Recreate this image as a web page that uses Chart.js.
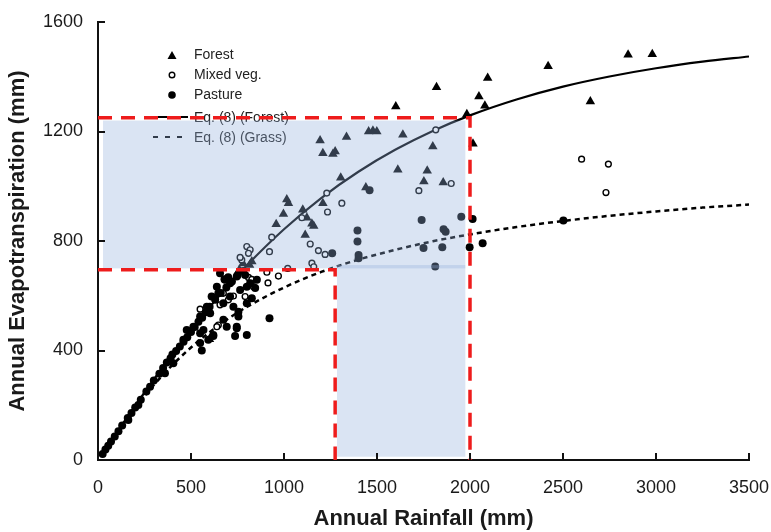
<!DOCTYPE html>
<html>
<head>
<meta charset="utf-8">
<script src="https://cdn.jsdelivr.net/npm/chart.js@4.4.1/dist/chart.umd.min.js"></script>
<style>
  html, body { margin: 0; background: #fff; }
</style>
</head>
<body>
<canvas id="etChart" width="771" height="532"></canvas>
<script>
// --- Data ---
const forest = [
  [2850,1480],[2980,1482],[2420,1438],[2095,1395],[1820,1362],[2048,1328],[2080,1294],
  [1983,1263],[1601,1291],[2647,1310],[2016,1155],[1639,1188],[1800,1145],[1612,1060],
  [1770,1057],[1752,1017],[1856,1014],[1194,1167],[1336,1180],[1455,1200],[1478,1203],
  [1499,1200],[1209,1121],[1263,1118],[1275,1127],[1305,1031],[1015,952],[1024,938],
  [997,899],[1101,914],[1209,938],[1123,885],[958,861],[1150,863],[1160,855],[1114,822],
  [1440,995],[827,725],[815,712],[780,718],[760,695],[599,441]
];
const mixedVeg = [
  [1816,1206],[2600,1099],[2744,1081],[2731,977],[1899,1010],[1725,984],[1230,975],
  [1311,938],[1234,906],[1096,885],[934,814],[922,761],[800,780],[818,768],[809,755],
  [773,731],[764,740],[1185,765],[1221,751],[1141,789],[1150,719],[1160,706],[1020,700],
  [970,672],[908,686],[914,647],[809,667],[827,660],[836,633],[791,597],[674,609],
  [728,599],[701,585],[656,567],[549,551],[647,493],[639,487]
];
const pasture = [
  [2502,875],[2014,880],[2068,792],[1998,777],[1953,889],[1740,877],[1858,843],[1869,834],
  [1750,774],[1851,777],[1813,707],[1395,838],[1395,798],[1401,749],[1401,737],[1259,755],
  [1460,985],[922,518],[800,457],[737,453],[558,400],[746,481],[620,453],[549,463],
  [656,682],[683,658],[639,633],[710,646],[746,670],[764,621],[800,633],[611,597],
  [674,573],[728,560],[755,542],[585,560],[549,524],[603,536],[513,487],[477,475],
  [459,439],[567,475],[620,457],[674,512],[692,487],[746,487],[755,524],[593,439],
  [549,427],[800,573],[827,591],[710,597],[647,609],[791,676],[818,646],[845,628],[854,658],
  [25,22],[40,38],[55,52],[70,68],[90,86],[110,105],[130,126],[160,153],[180,172],
  [200,192],[230,220],[260,250],[280,268],[300,290],[330,315],[350,336],[370,356],
  [390,372],[400,385],[420,398],[440,415],[460,432],[480,448],[500,468],[520,486],
  [540,505],[560,520],[580,540],[600,560],[630,585],[660,610],[690,630],[720,652],
  [750,675],[780,690],[700,668],[680,660],[360,317],[405,353],[217,201],[163,146]
];

// Eq. (8) curves, read at these rainfall values
const curveRain = [25,100,200,300,400,500,600,700,800,1000,1200,1400,1600,1800,2000,2250,2500,2750,3000,3250,3500];
const curveForest = [25,100,198,294,386,475,558,637,711,843,957,1053,1134,1202,1259,1317,1364,1401,1431,1455,1474];
const curveGrass = [25,99,191,274,347,411,467,516,559,630,687,732,768,799,824,851,873,892,908,922,933];

// red guide lines and the shaded zone (data units)
const guideForest = [[0,1250],[2000,1250],[2000,0]];
const guideGrass = [[0,695],[1275,695],[1275,0]];
const shadeUpper = [27,1975,700,1240];   // xMin, xMax, yMin, yMax
const shadeLower = [1285,1975,12,712];

const xTicks = [0,500,1000,1500,2000,2500,3000,3500];
const yTicks = [0,400,800,1200,1600];

// --- Helpers ---
const FONT = '"Liberation Sans", Arial, Helvetica, sans-serif';
const toXY = arr => arr.map(([x, y]) => ({ x, y }));
const curvePts = vals => curveRain.map((x, i) => ({ x, y: vals[i] }));

function drawLegend(ctx) {
  const sx = 172, tx = 194;
  ctx.save();
  ctx.fillStyle = '#000';
  ctx.strokeStyle = '#000';
  // triangle
  ctx.beginPath();
  ctx.moveTo(sx, 51); ctx.lineTo(sx + 4.5, 59); ctx.lineTo(sx - 4.5, 59);
  ctx.closePath(); ctx.fill();
  // open circle
  ctx.beginPath(); ctx.arc(sx, 75, 2.8, 0, Math.PI * 2);
  ctx.fillStyle = '#fff'; ctx.fill(); ctx.lineWidth = 1.4; ctx.stroke();
  // filled circle
  ctx.beginPath(); ctx.arc(sx, 95, 3.8, 0, Math.PI * 2);
  ctx.fillStyle = '#000'; ctx.fill();
  // solid line
  ctx.lineWidth = 2;
  ctx.beginPath(); ctx.moveTo(153, 117); ctx.lineTo(188, 117); ctx.stroke();
  // dashed line
  ctx.setLineDash([5, 7]);
  ctx.beginPath(); ctx.moveTo(153, 137); ctx.lineTo(188, 137); ctx.stroke();
  ctx.setLineDash([]);

  ctx.font = '14px ' + FONT;
  ctx.fillStyle = '#222';
  ctx.textBaseline = 'middle';
  ctx.fillText('Forest', tx, 55);
  ctx.fillText('Mixed veg.', tx, 75);
  ctx.fillText('Pasture', tx, 95);
  ctx.fillText('Eq. (8) (Forest)', tx, 118);
  ctx.fillText('Eq. (8) (Grass)', tx, 138);
  ctx.restore();
}

const overlayPlugin = {
  id: 'overlay',
  // datasets are drawn last-to-first; index 1 is the first red guide,
  // so legend + shading land above the points but below the guides
  beforeDatasetDraw(chart, args) {
    if (args.index !== 1) return;
    const ctx = chart.ctx;
    const { x, y } = chart.scales;
    drawLegend(ctx);
    ctx.save();
    ctx.fillStyle = 'rgba(147,176,220,0.34)';
    [shadeUpper, shadeLower].forEach(([x0, x1, y0, y1]) => {
      const l = x.getPixelForValue(x0), r = x.getPixelForValue(x1);
      const t = y.getPixelForValue(y1), b = y.getPixelForValue(y0);
      ctx.fillRect(l, t, r - l, b - t);
    });
    ctx.restore();
  },
  afterDraw(chart) {
    // inward tick marks
    const ctx = chart.ctx;
    const { x, y } = chart.scales;
    const area = chart.chartArea;
    ctx.save();
    ctx.strokeStyle = '#111';
    ctx.lineWidth = 2;
    ctx.beginPath();
    xTicks.slice(1).forEach(v => {
      const px = Math.round(x.getPixelForValue(v));
      ctx.moveTo(px, area.bottom); ctx.lineTo(px, area.bottom - 7);
    });
    yTicks.slice(1).forEach(v => {
      const py = Math.round(y.getPixelForValue(v));
      ctx.moveTo(area.left, py); ctx.lineTo(area.left + 7, py);
    });
    ctx.stroke();
    ctx.restore();
  }
};

const ctx = document.getElementById('etChart').getContext('2d');
new Chart(ctx, {
  type: 'scatter',
  data: {
    datasets: [
      { type: 'line', data: toXY(guideForest), borderColor: '#ee1c1c', borderWidth: 3.5,
        borderDash: [14, 9], pointRadius: 0, fill: false, tension: 0, clip: false },
      { type: 'line', data: toXY(guideGrass), borderColor: '#ee1c1c', borderWidth: 3.5,
        borderDash: [14, 9], pointRadius: 0, fill: false, tension: 0, clip: false },
      { label: 'Pasture', data: toXY(pasture), pointStyle: 'circle', pointRadius: 4,
        backgroundColor: '#000', borderWidth: 0 },
      { label: 'Mixed veg.', data: toXY(mixedVeg), pointStyle: 'circle', pointRadius: 2.9,
        backgroundColor: '#fff', borderColor: '#000', borderWidth: 1.4 },
      { label: 'Forest', data: toXY(forest), pointStyle: 'triangle', pointRadius: 5.5,
        backgroundColor: '#000', borderWidth: 0 },
      { type: 'line', label: 'Eq. (8) (Forest)', data: curvePts(curveForest), borderColor: '#000',
        borderWidth: 2.2, pointRadius: 0, fill: false, cubicInterpolationMode: 'monotone' },
      { type: 'line', label: 'Eq. (8) (Grass)', data: curvePts(curveGrass), borderColor: '#000',
        borderWidth: 2.5, borderDash: [5, 4], pointRadius: 0, fill: false, cubicInterpolationMode: 'monotone' },
    ]
  },
  options: {
    responsive: false,
    animation: false,
    events: [],
    layout: { padding: { left: 2, top: 22, right: 22, bottom: 0 } },
    plugins: { legend: { display: false }, tooltip: { enabled: false } },
    scales: {
      x: {
        type: 'linear', min: 0, max: 3500,
        afterFit: s => { s.height = 72; s.paddingLeft = 0; s.paddingRight = 0; },
        afterBuildTicks: s => { s.ticks = xTicks.map(v => ({ value: v })); },
        ticks: { color: '#1a1a1a', font: { family: FONT, size: 18 }, padding: 17,
                 maxRotation: 0, callback: v => String(v) },
        grid: { display: false, drawTicks: false },
        border: { display: true, color: '#111', width: 2 },
        title: { display: true, text: 'Annual Rainfall (mm)', color: '#1a1a1a',
                 font: { family: FONT, size: 22, weight: 'bold' }, padding: { top: 0, bottom: 0 } }
      },
      y: {
        type: 'linear', min: 0, max: 1600,
        afterFit: s => { s.width = 96; s.paddingTop = 0; s.paddingBottom = 0; },
        afterBuildTicks: s => { s.ticks = yTicks.map(v => ({ value: v })); },
        ticks: { color: '#1a1a1a', font: { family: FONT, size: 18 }, padding: 15,
                 callback: v => String(v) },
        grid: { display: false, drawTicks: false },
        border: { display: true, color: '#111', width: 2 },
        title: { display: true, text: 'Annual Evapotranspiration (mm)', color: '#1a1a1a',
                 font: { family: FONT, size: 22, weight: 'bold' }, padding: { top: 3, bottom: 0 } }
      }
    }
  },
  plugins: [overlayPlugin]
});
</script>
</body>
</html>
